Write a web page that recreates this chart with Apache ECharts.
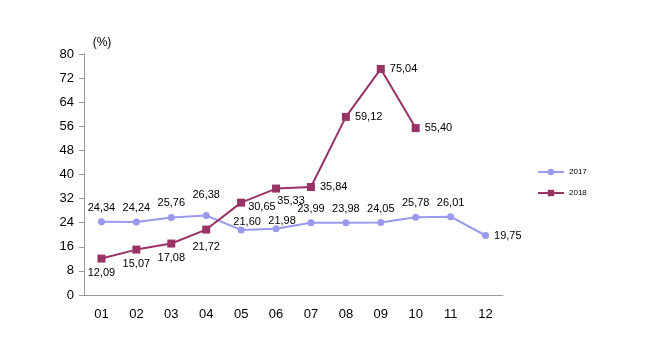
<!DOCTYPE html>
<html><head><meta charset="utf-8">
<script src="https://cdn.jsdelivr.net/npm/echarts@6/dist/echarts.min.js"></script>
<style>html,body{margin:0;padding:0;background:#fff}#c{width:650px;height:360px}</style>
</head><body><div id="c"></div>
<script>
const categories = ['01','02','03','04','05','06','07','08','09','10','11','12'];
const values2017 = [24.34,24.24,25.76,26.38,21.60,21.98,23.99,23.98,24.05,25.78,26.01,19.75];
const values2018 = [12.09,15.07,17.08,21.72,30.65,35.33,35.84,59.12,75.04,55.40];
const pos2017 = ['top','top','top','top','top','top','top','top','top','top','top','right'];
const off2017 = [[0,0],[0,0],[0,0],[0,-7],[6,6],[6,6],[0,0],[0,0],[0,0],[0,0],[0,0],[0,0]];
const pos2018 = ['bottom','bottom','bottom','bottom','right','bottom','right','right','right','right'];
const off2018 = [[0,0],[0,0],[0,0],[0,3],[-2,4],[15,-2],[0,0],[0,0],[0,0],[0,0]];
const fmt = v => v.toFixed(2).replace('.', ',');
const font = 'Liberation Sans, Arial, sans-serif';
const chart = echarts.init(document.getElementById('c'));
function mk(vals, pos, off){ return vals.map((v,i)=>({value:v,label:{position:pos[i],offset:off[i]}})); }
chart.setOption({
  animation:false,
  textStyle:{fontFamily:font},
  grid:{left:84,right:147,top:54,bottom:65},
  legend:{orient:'vertical',left:532,top:163,itemGap:13,itemWidth:26,itemHeight:8,
    textStyle:{fontSize:8,color:'#000',fontFamily:font},data:['2017','2018']},
  xAxis:{type:'category',data:categories,boundaryGap:true,
    axisLine:{lineStyle:{color:'#999'}},axisTick:{lineStyle:{color:'#999'},length:5},
    axisLabel:{color:'#000',fontSize:13,margin:13,fontFamily:font}},
  yAxis:{type:'value',min:0,max:80,interval:8,name:'(%)',nameGap:5,
    nameTextStyle:{color:'#000',fontSize:12,padding:[0,0,0,36],fontFamily:font},
    splitLine:{show:false},axisLine:{show:true,lineStyle:{color:'#999'}},
    axisTick:{show:true,lineStyle:{color:'#999'},length:5},
    axisLabel:{color:'#000',fontSize:13,margin:10,fontFamily:font}},
  series:[
    {name:'2017',type:'line',data:mk(values2017,pos2017,off2017),symbol:'circle',symbolSize:7,
     itemStyle:{color:'#9999ee'},lineStyle:{color:'#9999ee',width:2},
     label:{show:true,formatter:p=>fmt(p.value),fontSize:11,color:'#000',distance:5,fontFamily:font}},
    {name:'2018',type:'line',data:mk(values2018,pos2018,off2018),symbol:'rect',symbolSize:8,
     itemStyle:{color:'#993366'},lineStyle:{color:'#993366',width:2},
     label:{show:true,formatter:p=>fmt(p.value),fontSize:11,color:'#000',distance:5,fontFamily:font}}
  ]
});
</script></body></html>
